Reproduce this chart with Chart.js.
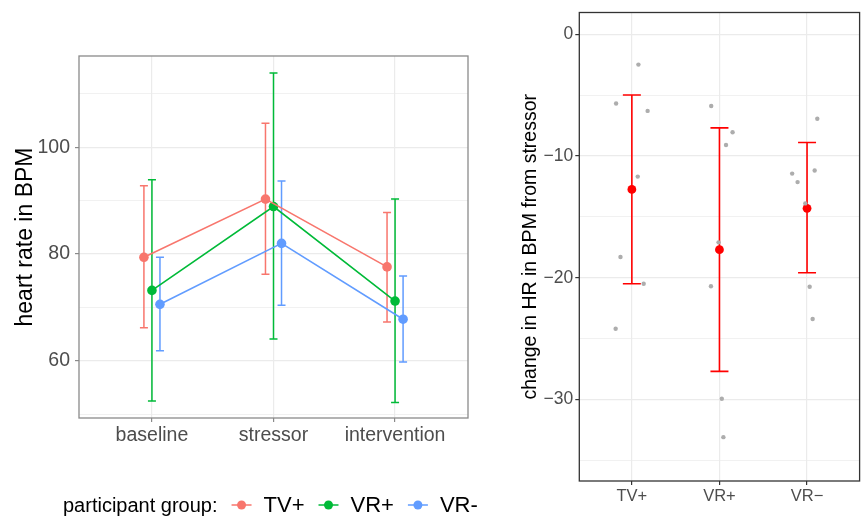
<!DOCTYPE html>
<html>
<head>
<meta charset="utf-8">
<script src="https://cdn.jsdelivr.net/npm/chart.js@4"></script>
<style>
html, body { margin: 0; padding: 0; background: #fff; }
#wrap { position: relative; width: 864px; height: 521px; }
#left { position: absolute; left: 0; top: 0; width: 510px; height: 521px; }
#right { position: absolute; left: 510px; top: 0; width: 354px; height: 521px; }
</style>
</head>
<body>
<div id="wrap">
    <div id="left"><canvas id="hrChart"></canvas></div>
    <div id="right"><canvas id="diffChart"></canvas></div>
</div>
<script>
// ---------- left panel: heart rate per phase ----------
const phases = ["baseline", "stressor", "intervention"];
const groups = ["TV+", "VR+", "VR-"];
const groupColors = ["#F8766D", "#00BA38", "#619CFF"];
const dodge = [-0.066, 0, 0.066];
const hrTicks = [50, 60, 70, 80, 90, 100, 110];

const tvMean = [79.4, 90.3, 77.6];
const tvLow = [66.2, 76.2, 67.3];
const tvHigh = [92.8, 104.5, 87.8];

const vrPlusMean = [73.2, 88.9, 71.2];
const vrPlusLow = [52.5, 64.1, 52.2];
const vrPlusHigh = [93.9, 113.9, 90.3];

const vrMinusMean = [70.6, 82.0, 67.8];
const vrMinusLow = [61.9, 70.4, 59.8];
const vrMinusHigh = [79.4, 93.7, 75.9];

// ---------- right panel: change from stressor ----------
const diffGroups = ["TV+", "VR+", "VR\u2212"];
const diffTicks = [-35, -30, -25, -20, -15, -10, -5, 0];
const diffMean = [-12.75, -17.7, -14.3];
const diffLow = [-20.5, -27.7, -19.6];
const diffHigh = [-5.0, -7.7, -8.9];

// single participants (jitter offset from group centre + value)
const tvJitter = [-0.18, 0.075, 0.18, 0.067, -0.13, 0.135, -0.185];
const tvDiff = [-5.7, -2.5, -6.3, -11.7, -18.3, -20.5, -24.2];
const vrPlusJitter = [-0.094, 0.15, 0.075, -0.01, -0.097, 0.027, 0.045];
const vrPlusDiff = [-5.9, -8.05, -9.1, -17.1, -20.7, -29.95, -33.1];
const vrMinusJitter = [0.117, 0.087, -0.17, -0.108, -0.02, 0.03, 0.064];
const vrMinusDiff = [-6.95, -11.2, -11.45, -12.15, -13.9, -20.75, -23.4];

Chart.defaults.font.family = "'Liberation Sans', Arial, sans-serif";
Chart.defaults.animation = false;

const means = [tvMean, vrPlusMean, vrMinusMean];
const lows = [tvLow, vrPlusLow, vrMinusLow];
const highs = [tvHigh, vrPlusHigh, vrMinusHigh];

// box round the plot area
const panelBorder = {
    id: "panelBorder",
    beforeDatasetsDraw(chart, args, opts) {
        const a = chart.chartArea;
        const ctx = chart.ctx;
        ctx.save();
        ctx.strokeStyle = opts.color;
        ctx.lineWidth = opts.width;
        ctx.strokeRect(a.left, a.top, a.right - a.left, a.bottom - a.top);
        ctx.restore();
    }
};

// vertical error bars with caps, from dataset.errLow / dataset.errHigh
const errorBars = {
    id: "errorBars",
    beforeDatasetsDraw(chart, args, opts) {
        const ctx = chart.ctx;
        const xs = chart.scales.x;
        const ys = chart.scales.y;
        ctx.save();
        ctx.lineWidth = opts.width;
        chart.data.datasets.forEach(ds => {
            if (!ds.errLow) return;
            ctx.strokeStyle = ds.errColor || ds.borderColor;
            ds.data.forEach((p, i) => {
                const x = xs.getPixelForValue(p.x);
                const yLo = ys.getPixelForValue(ds.errLow[i]);
                const yHi = ys.getPixelForValue(ds.errHigh[i]);
                ctx.beginPath();
                ctx.moveTo(x, yLo);
                ctx.lineTo(x, yHi);
                ctx.moveTo(x - opts.cap, yLo);
                ctx.lineTo(x + opts.cap, yLo);
                ctx.moveTo(x - opts.cap, yHi);
                ctx.lineTo(x + opts.cap, yHi);
                ctx.stroke();
            });
        });
        ctx.restore();
    }
};

// ggplot style legend under the left panel
const bottomLegend = {
    id: "bottomLegend",
    afterDraw(chart, args, opts) {
        const ctx = chart.ctx;
        const y = opts.y;
        let x = opts.x;
        ctx.save();
        ctx.textBaseline = "middle";
        ctx.fillStyle = "#000";
        ctx.font = "20px 'Liberation Sans', Arial, sans-serif";
        ctx.fillText(opts.title, x, y);
        x += ctx.measureText(opts.title).width + 14;
        ctx.font = "22px 'Liberation Sans', Arial, sans-serif";
        chart.data.datasets.forEach(ds => {
            ctx.strokeStyle = ds.borderColor;
            ctx.fillStyle = ds.borderColor;
            ctx.lineWidth = 1.5;
            ctx.beginPath();
            ctx.moveTo(x, y - 1);
            ctx.lineTo(x + 20, y - 1);
            ctx.stroke();
            ctx.beginPath();
            ctx.arc(x + 10, y - 1, 4.5, 0, Math.PI * 2);
            ctx.fill();
            x += 32;
            ctx.fillStyle = "#000";
            ctx.fillText(ds.label, x, y);
            x += ctx.measureText(ds.label).width + 14;
        });
        ctx.restore();
    }
};

new Chart(document.getElementById("hrChart"), {
    type: "line",
    data: {
        datasets: groups.map((g, k) => ({
            label: g,
            data: phases.map((p, i) => ({ x: i + dodge[k], y: means[k][i] })),
            errLow: lows[k],
            errHigh: highs[k],
            borderColor: groupColors[k],
            backgroundColor: groupColors[k],
            borderWidth: 1.6,
            pointRadius: 4.8,
            pointHoverRadius: 4.8,
            pointBorderWidth: 0,
            tension: 0
        }))
    },
    plugins: [panelBorder, errorBars, bottomLegend],
    options: {
        responsive: true,
        maintainAspectRatio: false,
        devicePixelRatio: 1,
        events: [],
        layout: { padding: { top: 56, right: 42, left: 0, bottom: 0 } },
        plugins: {
            legend: { display: false },
            tooltip: { enabled: false },
            panelBorder: { color: "#8a8a8a", width: 1.3 },
            errorBars: { width: 1.5, cap: 4 },
            bottomLegend: { title: "participant group:", x: 63, y: 506 }
        },
        scales: {
            x: {
                type: "linear",
                min: -0.6,
                max: 2.6,
                afterBuildTicks: axis => { axis.ticks = phases.map((p, i) => ({ value: i })); },
                afterFit: axis => { axis.height = 103; },
                ticks: {
                    callback: v => phases[v],
                    color: "#4d4d4d",
                    font: { size: 19.5 },
                    padding: 2,
                    maxRotation: 0,
                    autoSkip: false
                },
                grid: { color: "#ebebeb", lineWidth: 1.2, tickColor: "#8a8a8a", tickLength: 4 },
                border: { display: false }
            },
            y: {
                min: 49.3,
                max: 117.1,
                afterBuildTicks: axis => { axis.ticks = hrTicks.map(v => ({ value: v })); },
                afterFit: axis => { axis.width = 79; },
                ticks: {
                    callback: v => (v % 20 === 0 ? v : ""),
                    color: "#4d4d4d",
                    font: { size: 19.5 },
                    padding: 5
                },
                title: {
                    display: true,
                    text: "heart rate in BPM",
                    color: "#000",
                    font: { size: 23 },
                    padding: { top: 12, bottom: 0 }
                },
                grid: {
                    color: "#ebebeb",
                    lineWidth: c => (c.tick && c.tick.value % 20 === 0 ? 1.2 : 0.7),
                    tickColor: c => (c.tick && c.tick.value % 20 === 0 ? "#8a8a8a" : "rgba(0,0,0,0)"),
                    tickLength: 4
                },
                border: { display: false }
            }
        }
    }
});

// ---------- right chart ----------
const jitters = [tvJitter, vrPlusJitter, vrMinusJitter];
const diffs = [tvDiff, vrPlusDiff, vrMinusDiff];
const participantPoints = [];
jitters.forEach((jit, g) => {
    jit.forEach((j, i) => participantPoints.push({ x: g + j, y: diffs[g][i] }));
});

new Chart(document.getElementById("diffChart"), {
    type: "scatter",
    data: {
        datasets: [
            {
                label: "participants",
                data: participantPoints,
                backgroundColor: "#adadad",
                borderWidth: 0,
                pointRadius: 2.2,
                pointHoverRadius: 2.2
            },
            {
                label: "mean",
                data: diffMean.map((m, i) => ({ x: i, y: m })),
                errLow: diffLow,
                errHigh: diffHigh,
                errColor: "#ff0000",
                backgroundColor: "#ff0000",
                borderColor: "#ff0000",
                borderWidth: 0,
                pointRadius: 4.4,
                pointHoverRadius: 4.4
            }
        ]
    },
    plugins: [panelBorder, errorBars],
    options: {
        responsive: true,
        maintainAspectRatio: false,
        devicePixelRatio: 1,
        events: [],
        layout: { padding: { top: 6, right: 1, left: 0, bottom: 0 } },
        plugins: {
            legend: { display: false },
            tooltip: { enabled: false },
            panelBorder: { color: "#333333", width: 1.3 },
            errorBars: { width: 1.6, cap: 9 }
        },
        scales: {
            x: {
                type: "linear",
                min: -0.6,
                max: 2.6,
                afterBuildTicks: axis => { axis.ticks = diffGroups.map((g, i) => ({ value: i })); },
                afterFit: axis => { axis.height = 40; },
                ticks: {
                    callback: v => diffGroups[v],
                    color: "#4d4d4d",
                    font: { size: 16.5 },
                    padding: 2,
                    maxRotation: 0,
                    autoSkip: false
                },
                grid: { color: "#ebebeb", lineWidth: 1.2, tickColor: "#333333", tickLength: 4 },
                border: { display: false }
            },
            y: {
                min: -36.7,
                max: 1.78,
                afterBuildTicks: axis => { axis.ticks = diffTicks.map(v => ({ value: v })); },
                afterFit: axis => { axis.width = 69.3; },
                ticks: {
                    callback: v => (v % 10 === 0 ? String(v).replace("-", "\u2212") : ""),
                    color: "#4d4d4d",
                    font: { size: 17.5 },
                    padding: 2
                },
                title: {
                    display: true,
                    text: "change in HR in BPM from stressor",
                    color: "#000",
                    font: { size: 19.5 },
                    padding: { top: 9, bottom: 0 }
                },
                grid: {
                    color: "#ebebeb",
                    lineWidth: c => (c.tick && c.tick.value % 10 === 0 ? 1.2 : 0.7),
                    tickColor: c => (c.tick && c.tick.value % 10 === 0 ? "#333333" : "rgba(0,0,0,0)"),
                    tickLength: 4
                },
                border: { display: false }
            }
        }
    }
});
</script>
</body>
</html>
